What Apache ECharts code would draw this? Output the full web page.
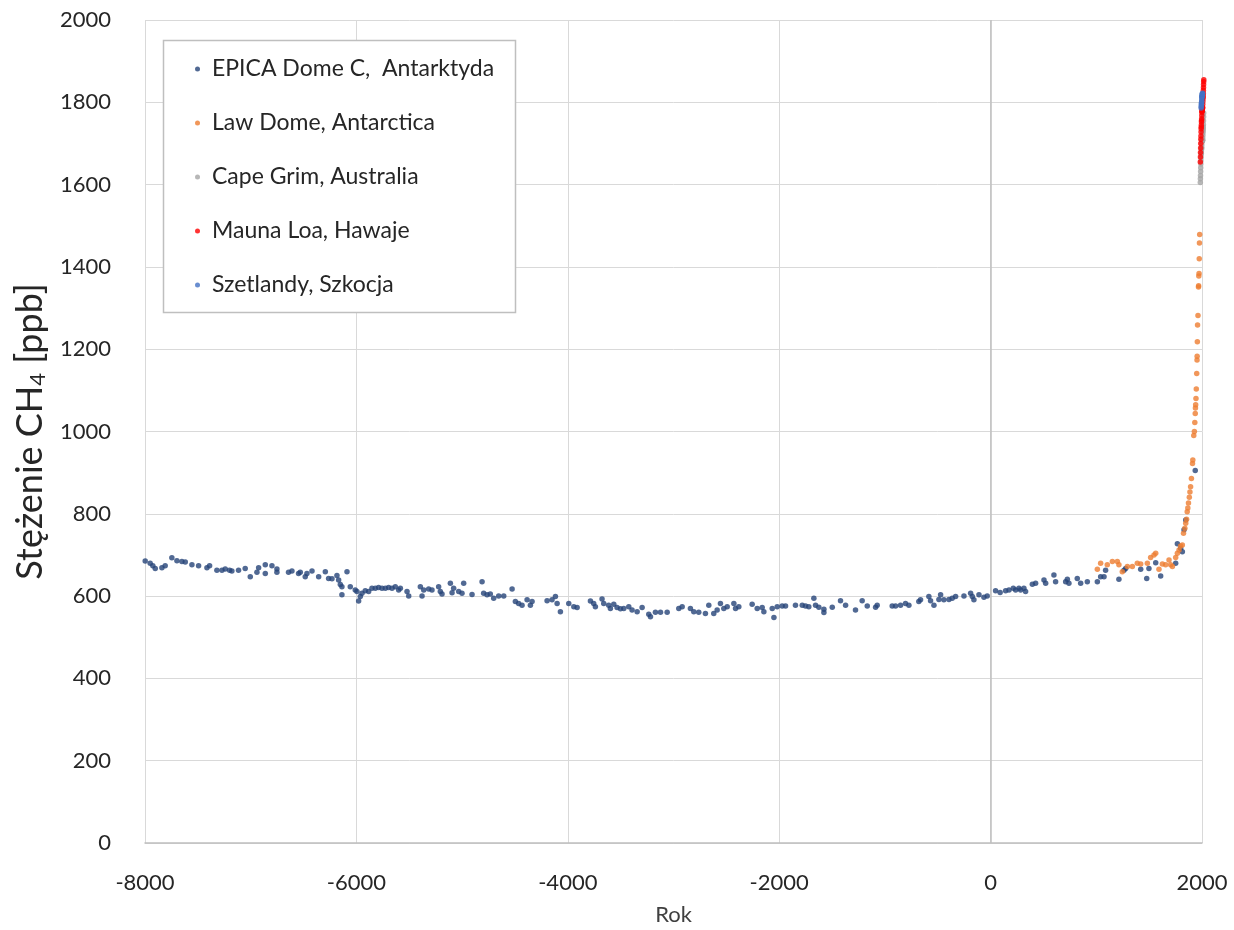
<!DOCTYPE html>
<html>
<head>
<meta charset="utf-8">
<script src="https://cdn.jsdelivr.net/npm/echarts@6/dist/echarts.min.js"></script>
<style>
html,body{margin:0;padding:0;background:#fff;}
#chart{width:1234px;height:930px;}
</style>
</head>
<body>
<div id="chart"></div>
<script>
const seriesNames = ['EPICA Dome C,  Antarktyda','Law Dome, Antarctica','Cape Grim, Australia','Mauna Loa, Hawaje','Szetlandy, Szkocja'];
const xTicks = [-8000,-6000,-4000,-2000,0,2000];
const yTicks = [0,200,400,600,800,1000,1200,1400,1600,1800,2000];

const epica = [[-7998,685],[-7951,680],[-7926,674],[-7903,667],[-7840,669],[-7809,674],[-7746,693],[-7698,686],[-7651,684],[-7619,683],[-7556,676],[-7493,674],[-7414,669],[-7389,674],[-7320,663],[-7272,663],[-7241,666],[-7200,663],[-7178,661],[-7115,663],[-7052,667],[-7004,647],[-6941,658],[-6925,669],[-6862,655],[-6862,676],[-6799,674],[-6752,666],[-6752,658],[-6642,658],[-6610,661],[-6547,655],[-6531,658],[-6484,647],[-6468,655],[-6420,661],[-6357,647],[-6294,659],[-6263,643],[-6231,642],[-6184,650],[-6168,639],[-6152,628],[-6137,623],[-6137,603],[-6089,659],[-6058,623],[-6011,615],[-5979,588],
[-5995,611],[-5963,599],[-5947,607],[-5916,613],[-5884,611],[-5853,619],[-5821,619],[-5790,621],[-5758,619],[-5726,619],[-5695,621],[-5663,619],[-5632,623],[-5600,615],[-5584,619],[-5521,611],[-5505,600],[-5395,623],[-5379,600],[-5363,615],[-5316,617],[-5285,615],[-5222,623],[-5206,611],[-5190,605],[-5111,631],[-5095,608],[-5080,619],[-5032,611],[-5001,607],[-4985,631],[-4906,604],[-4811,635],[-4796,607],[-4764,603],[-4733,605],[-4701,595],[-4654,600],[-4606,600],[-4527,617],[-4496,587],[-4465,582],[-4433,578],[-4385,591],[-4354,578],[-4338,587],[-4196,589],[-4149,591],[-4117,599],[-4101,582],[-4070,562],[-3991,582],
[-3943,574],[-3912,572],[-3786,588],[-3755,582],[-3739,574],[-3676,593],[-3660,582],[-3613,578],[-3597,570],[-3565,580],[-3534,572],[-3502,569],[-3470,570],[-3423,574],[-3392,566],[-3344,562],[-3297,572],[-3234,556],[-3218,550],[-3171,561],[-3123,561],[-3060,561],[-2950,570],[-2918,574],[-2840,570],[-2808,562],[-2761,561],[-2698,558],[-2666,578],[-2619,558],[-2587,566],[-2556,582],[-2524,570],[-2492,574],[-2429,582],[-2413,570],[-2382,574],[-2256,580],[-2208,570],[-2161,572],[-2145,562],[-2066,570],[-2050,548],[-2019,574],[-1972,576],
[-1940,576],[-1846,578],[-1782,578],[-1751,576],[-1720,574],[-1672,595],[-1656,578],[-1625,573],[-1577,568],[-1577,560],[-1498,573],[-1420,589],[-1372,578],[-1278,566],[-1215,589],[-1167,576],[-1088,573],[-1073,578],[-931,576],[-899,576],[-852,578],[-805,582],[-773,578],[-679,587],[-663,591],[-584,599],[-568,589],[-536,578],[-489,592],[-473,603],[-442,591],[-394,592],[-363,595],[-331,599],[-252,600],[-189,607],[-173,599],[-158,591],[-110,603],[-63,597],[-32,600],[47,613],[90,609],
[142,613],[174,615],[215,619],[237,615],[268,619],[284,615],[315,619],[331,611],[395,629],[426,631],[505,639],[521,631],[599,651],[615,635],[710,635],[726,641],[741,631],[820,643],[852,631],[915,635],[1010,635],[1041,647],[1073,647],[1088,663],[1214,641],[1262,663],[1278,667],[1420,665],[1477,643],[1498,667],[1562,681],[1609,649],[1751,680],[1767,727],[1798,716],[1814,708],[1830,761],[1846,785],[1936,905]];

const lawDome = [[1010,665],[1041,680],[1104,676],[1152,684],[1199,684],[1214,676],[1246,659],[1294,672],[1341,672],[1388,680],[1420,678],[1483,680],[1514,694],[1546,700],[1562,704],[1593,665],[1625,678],[1656,676],[1688,688],[1704,676],[1720,672],[1751,694],[1767,704],[1783,712],[1798,722],[1814,724],[1825,753],[1838,765],[1846,777],[1854,787],[1860,805],[1866,814],[1872,826],[1880,840],[1886,853],[1892,866],[1900,886],[1910,922],[1913,931],[1922,990],[1928,1000],[1932,1022],[1936,1044],[1938,1057],[1940,1065],[1943,1080],[1946,1103],[1950,1141],[1953,1174],[1954,1183],[1956,1218],[1958,1259],[1962,1282],[1967,1351],[1968,1354],[1970,1378],[1972,1384],[1974,1420],[1976,1458],[1978,1479]];

const capeGrim = [[1984,1605],[1985,1614],[1986,1622],[1987,1632],[1988,1641],[1989,1650],[1990,1658],[1991,1666],[1992,1673],[1993,1676],[1994,1680],[1995,1685],[1996,1688],[1997,1691],[1998,1697],[1999,1704],[2000,1705],[2001,1706],[2002,1707],[2003,1709],[2004,1708],[2005,1707],[2006,1708],[2007,1713],[2008,1720],[2009,1726],[2010,1731],[2011,1735],[2012,1740],[2013,1746],[2014,1755],[2015,1765],[2016,1774]];

const maunaLoa = [[1984,1655],[1985,1667],[1986,1678],[1987,1689],[1988,1700],[1989,1710],[1990,1718],[1991,1728],[1992,1736],[1993,1740],[1994,1745],[1995,1752],[1996,1756],[1997,1760],[1998,1768],[1999,1775],[2000,1778],[2001,1779],[2002,1782],[2003,1786],[2004,1785],[2005,1786],[2006,1788],[2007,1795],[2008,1802],[2009,1808],[2010,1812],[2011,1816],[2012,1822],[2013,1829],[2014,1836],[2015,1843],[2016,1850],[2017,1855]];

const shetland = [[1992,1786],[1993,1790],[1994,1794],[1995,1797],[1996,1800],[1997,1803],[1998,1808],[1999,1812],[2000,1814],[2001,1815],[2002,1817],[2003,1820],[2004,1821],[2005,1822]];

const colors = ['#264478','#ED7D31','#A5A5A5','#FF0000','#4472C4'];
const FONT = 'Lato';
const allData = [epica, lawDome, capeGrim, maunaLoa, shetland];

const chart = echarts.init(document.getElementById('chart'), null, {renderer:'canvas'});
const series = allData.map((d,i)=>({
  name: seriesNames[i],
  type: 'scatter',
  data: d,
  symbol: 'circle',
  symbolSize: 5.5,
  clip: false,
  itemStyle: {color: colors[i]},
  emphasis: {disabled: true}
}));
series[0].markLine = {
  silent: true, symbol: 'none', label: {show:false},
  lineStyle: {color:'#bfbfbf', type:'solid', width:1.5},
  data: [{xAxis: 0}]
};

chart.setOption({
  animation: false,
  backgroundColor: '#fff',
  color: colors,
  grid: {left:145, right:32, top:20, bottom:87, containLabel:false, outerBoundsMode:'none'},
  xAxis: {
    type: 'value', min: xTicks[0], max: xTicks[xTicks.length-1], interval: 2000,
    name: 'Rok', nameLocation: 'middle', nameGap: 61,
    nameTextStyle: {fontFamily: FONT, fontSize: 22, color:'#404040'},
    axisLine: {show:true, onZero:false, lineStyle:{color:'#bfbfbf', width:1.5}},
    axisTick: {show:false},
    axisLabel: {fontFamily: FONT, fontSize: 22, color:'#262626', margin: 29, formatter: v => String(v)},
    splitLine: {show:true, lineStyle:{color:'#d9d9d9', width:1}}
  },
  yAxis: {
    type: 'value', min: yTicks[0], max: yTicks[yTicks.length-1], interval: 200,
    name: 'Stężenie CH{sub|4} [ppb]', nameLocation: 'middle', nameGap: 93, nameRotate: 90,
    nameTextStyle: {fontFamily: FONT, fontSize: 36, color:'#262626',
      rich: {sub:{fontFamily: FONT, fontSize: 22, color:'#262626', verticalAlign:'bottom', padding:[15,0,0,0]}}},
    axisLine: {show:false},
    axisTick: {show:false},
    axisLabel: {fontFamily: FONT, fontSize: 22, color:'#262626', margin: 34, formatter: v => String(v)},
    splitLine: {show:true, lineStyle:{color:'#d9d9d9', width:1}}
  },
  legend: {
    orient: 'vertical', left: 195, top: 57, itemGap: 30, padding: 0,
    itemWidth: 5, itemHeight: 5, icon: 'circle',
    textStyle: {fontFamily: FONT, fontSize: 23, color:'#262626', lineHeight: 24, padding:[0,0,0,7]},
    data: seriesNames, selectedMode: false
  },
  graphic: [{
    type: 'rect', z: 3, silent: true,
    shape: {x:163.5, y:40.5, width:352, height:272},
    style: {fill:'#fff', stroke:'#bfbfbf', lineWidth:1.5}
  }],
  series: series
});
</script>
</body>
</html>
